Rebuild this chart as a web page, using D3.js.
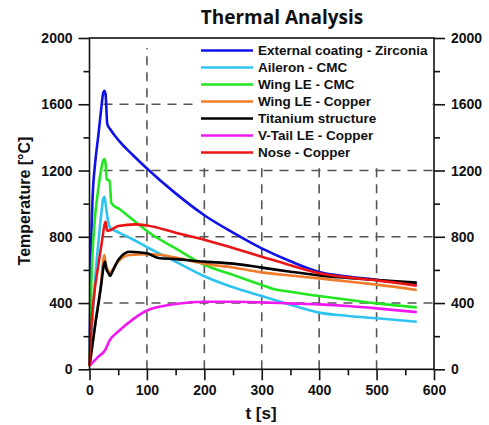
<!DOCTYPE html>
<html>
<head>
<meta charset="utf-8">
<script src="https://cdn.jsdelivr.net/npm/d3@7"></script>
<style>
  body { margin: 0; background: #fff; }
  svg text { font-family: "Liberation Sans", Arial, sans-serif; font-weight: bold; fill: #111; }
</style>
</head>
<body>
<svg width="489" height="425"></svg>
<script>
var svg = d3.select("svg");

// Data
var seriesNames = ["External coating - Zirconia", "Aileron - CMC", "Wing LE - CMC",
    "Wing LE - Copper", "Titanium structure", "V-Tail LE - Copper", "Nose - Copper"];
var seriesColors = ["#1010e8", "#2ec4f2", "#22e622", "#f07c2a", "#000000", "#f218f2", "#ec1515"];

var zirconiaT = [0, 2, 5, 10, 15, 20, 24, 26, 28, 31, 37, 50, 75, 100, 150, 200, 250, 300, 350, 400, 450, 500, 570];
var zirconiaV = [20, 600, 1000, 1250, 1400, 1560, 1670, 1682, 1660, 1480, 1445, 1385, 1295, 1212, 1062, 930, 825, 730, 652, 588, 560, 541, 512];

var aileronT = [0, 5, 10, 15, 20, 24, 26, 28, 32, 36, 40, 53, 75, 100, 150, 200, 250, 300, 350, 400, 450, 500, 570];
var aileronV = [20, 300, 550, 750, 920, 1030, 1042, 1000, 900, 855, 845, 822, 785, 738, 650, 562, 495, 442, 390, 342, 322, 308, 287];

var wingCmcT = [0, 3, 8, 15, 20, 24, 26, 28, 30, 35, 38, 53, 88, 100, 150, 200, 250, 300, 320, 350, 400, 450, 500, 570];
var wingCmcV = [20, 500, 850, 1080, 1200, 1260, 1270, 1240, 1145, 1140, 1004, 965, 868, 835, 730, 630, 570, 509, 485, 468, 442, 420, 398, 374];

var wingCuT = [0, 10, 20, 24, 26, 28, 32, 36, 40, 50, 70, 100, 125, 150, 175, 200, 250, 300, 350, 400, 450, 500, 570];
var wingCuV = [20, 280, 520, 660, 690, 640, 600, 580, 600, 650, 690, 695, 690, 675, 656, 638, 615, 585, 566, 549, 530, 511, 479];

var titaniumT = [0, 10, 20, 25, 27, 29, 33, 36, 40, 50, 70, 100, 120, 150, 200, 250, 300, 350, 400, 450, 500, 570];
var titaniumV = [20, 270, 500, 630, 650, 610, 580, 563, 590, 660, 710, 700, 672, 665, 650, 638, 614, 589, 567, 552, 539, 523];

var vtailT = [0, 15, 27, 35, 50, 75, 100, 150, 200, 250, 300, 350, 400, 450, 500, 570];
var vtailV = [20, 75, 115, 175, 228, 300, 355, 394, 408, 408, 404, 398, 392, 382, 368, 345];

var noseT = [0, 3, 8, 15, 22, 26, 28, 31, 35, 50, 80, 100, 150, 200, 250, 300, 350, 400, 450, 500, 570];
var noseV = [20, 250, 450, 620, 780, 870, 891, 835, 838, 865, 875, 868, 825, 782, 732, 680, 628, 580, 555, 537, 505];

var xTicks = [0, 100, 200, 300, 400, 500, 600];
var yTicks = [0, 400, 800, 1200, 1600, 2000];

var allT = [zirconiaT, aileronT, wingCmcT, wingCuT, titaniumT, vtailT, noseT];
var allV = [zirconiaV, aileronV, wingCmcV, wingCuV, titaniumV, vtailV, noseV];

// Scales
var x = d3.scaleLinear().domain([0, 600]).range([89.5, 434]);
var y = d3.scaleLinear().domain([0, 2000]).range([369.3, 38]);

// Grid (dashed)
var grid = svg.append("g").attr("stroke", "#555").attr("stroke-width", 1.6).attr("stroke-dasharray", "9,7");
grid.selectAll(".gx").data([100, 200, 300, 400, 500]).enter().append("line")
    .attr("x1", function(d) { return x(d); }).attr("x2", function(d) { return x(d); })
    .attr("y1", y(0)).attr("y2", y(1940));
grid.selectAll(".gy").data([400, 800, 1200, 1600]).enter().append("line")
    .attr("y1", function(d) { return y(d); }).attr("y2", function(d) { return y(d); })
    .attr("x1", x(0) + 14).attr("x2", x(600));

// Legend background hides grid
svg.append("rect").attr("x", 195).attr("y", 40).attr("width", 237).attr("height", 122).attr("fill", "#fff");

// Lines
var line = d3.line().curve(d3.curveMonotoneX)
    .x(function(d) { return x(d[0]); })
    .y(function(d) { return y(d[1]); });

svg.append("g").selectAll("path").data(allT).enter().append("path")
    .attr("d", function(d, i) { return line(d.map(function(t, j) { return [t, allV[i][j]]; })); })
    .attr("fill", "none")
    .attr("stroke", function(d, i) { return seriesColors[i]; })
    .attr("stroke-width", 2.6)
    .attr("stroke-linejoin", "round");

// Axes
var fontSize = "14px";
var left = svg.append("g").attr("transform", "translate(" + x(0) + ",0)")
    .call(d3.axisLeft(y).tickValues(yTicks).tickSize(11).tickPadding(6).tickFormat(d3.format("d")));
var right = svg.append("g").attr("transform", "translate(" + x(600) + ",0)")
    .call(d3.axisRight(y).tickValues(yTicks).tickSize(11).tickPadding(6).tickFormat(d3.format("d")));
var bottom = svg.append("g").attr("transform", "translate(0," + y(0) + ")")
    .call(d3.axisBottom(x).tickValues(xTicks).tickSize(11).tickPadding(5).tickFormat(d3.format("d")));

// minor ticks
svg.append("g").call(d3.axisLeft(y).tickValues([200, 600, 1000, 1400, 1800]).tickSize(6).tickFormat(""))
    .attr("transform", "translate(" + x(0) + ",0)").select(".domain").remove();
svg.append("g").call(d3.axisRight(y).tickValues([200, 600, 1000, 1400, 1800]).tickSize(6).tickFormat(""))
    .attr("transform", "translate(" + x(600) + ",0)").select(".domain").remove();
svg.append("g").call(d3.axisBottom(x).tickValues([50, 150, 250, 350, 450, 550]).tickSize(6).tickFormat(""))
    .attr("transform", "translate(0," + y(0) + ")").select(".domain").remove();

[left, right, bottom].forEach(function(g) {
    g.selectAll("text").style("font-size", fontSize);
    g.select(".domain").remove();
});
svg.selectAll(".tick line").attr("stroke", "#111").attr("stroke-width", 1.6);

// frame
svg.append("rect").attr("x", x(0)).attr("y", y(2000)).attr("width", x(600) - x(0)).attr("height", y(0) - y(2000))
    .attr("fill", "none").attr("stroke", "#111").attr("stroke-width", 1.6);

// Legend
var legend = svg.append("g").selectAll("g").data(seriesNames).enter().append("g")
    .attr("transform", function(d, i) { return "translate(201," + (50.5 + i * 17) + ")"; });
legend.append("line").attr("x1", 0).attr("x2", 52)
    .attr("stroke", function(d, i) { return seriesColors[i]; }).attr("stroke-width", 2.6);
legend.append("text").attr("x", 57).attr("dy", "0.35em").style("font-size", "13.5px").text(function(d) { return d; });

// Titles
svg.append("text").attr("x", 282).attr("y", 24).attr("text-anchor", "middle")
    .style("font-family", "'Open Sans', sans-serif").style("font-size", "19px").text("Thermal Analysis");
svg.append("text").attr("x", 261).attr("y", 419).attr("text-anchor", "middle")
    .style("font-size", "17px").text("t [s]");
svg.append("text").attr("transform", "translate(30,201) rotate(-90)").attr("text-anchor", "middle")
    .style("font-size", "16px").text("Temperature [°C]");
</script>
</body>
</html>
